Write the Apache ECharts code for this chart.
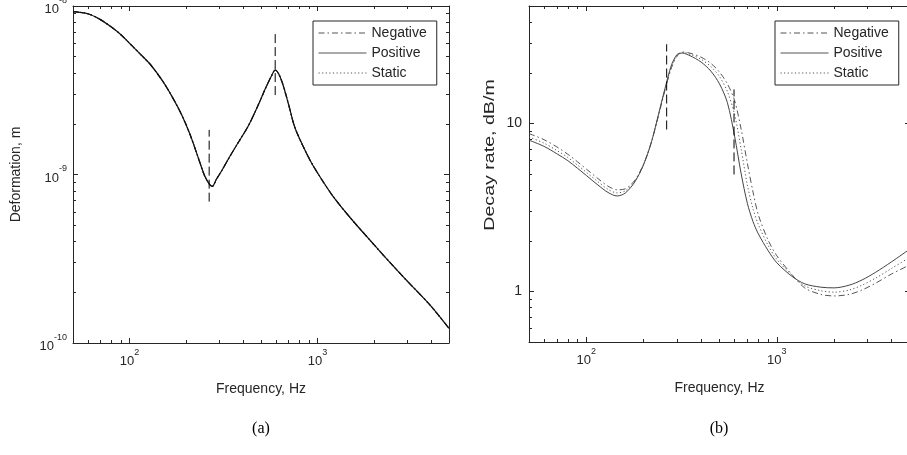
<!DOCTYPE html>
<html>
<head>
<meta charset="utf-8">
<script src="https://cdn.jsdelivr.net/npm/echarts@6/dist/echarts.min.js"></script>
<style>
  html, body { margin: 0; padding: 0; background: #fff; }
  #chart { width: 907px; height: 455px; }
</style>
</head>
<body>
<div id="chart"></div>
<script>
// ---- (a) deformation amplitude versus frequency ----
const freqA = [50, 60, 70, 80, 90, 100, 115, 130, 150, 170, 190, 210, 230, 250, 265, 275, 290, 310, 340, 380,
  430, 480, 530, 570, 595, 620, 650, 700, 750, 800, 900, 1000, 1200, 1500, 2000, 2500, 3000, 4000, 5000];
const deformNegative = [9.25e-9, 9.0e-9, 8.3e-9, 7.5e-9, 6.75e-9, 6.0e-9, 5.13e-9, 4.45e-9, 3.58e-9, 2.84e-9,
  2.24e-9, 1.72e-9, 1.29e-9, 9.9e-10, 8.8e-10, 8.5e-10, 9.4e-10, 1.06e-9, 1.27e-9, 1.56e-9,
  1.96e-9, 2.54e-9, 3.27e-9, 3.87e-9, 4.17e-9, 3.97e-9, 3.49e-9, 2.62e-9, 1.96e-9, 1.64e-9,
  1.25e-9, 1.02e-9, 7.5e-10, 5.5e-10, 3.82e-10, 2.9e-10, 2.33e-10, 1.66e-10, 1.22e-10];
const deformPositive = [9.25e-9, 9.0e-9, 8.3e-9, 7.5e-9, 6.75e-9, 6.0e-9, 5.13e-9, 4.45e-9, 3.58e-9, 2.84e-9,
  2.24e-9, 1.72e-9, 1.29e-9, 9.9e-10, 8.8e-10, 8.5e-10, 9.4e-10, 1.06e-9, 1.27e-9, 1.56e-9,
  1.96e-9, 2.54e-9, 3.27e-9, 3.87e-9, 4.17e-9, 3.97e-9, 3.49e-9, 2.62e-9, 1.96e-9, 1.64e-9,
  1.25e-9, 1.02e-9, 7.5e-10, 5.5e-10, 3.82e-10, 2.9e-10, 2.33e-10, 1.66e-10, 1.22e-10];
const deformStatic = [9.25e-9, 9.0e-9, 8.3e-9, 7.5e-9, 6.75e-9, 6.0e-9, 5.13e-9, 4.45e-9, 3.58e-9, 2.84e-9,
  2.24e-9, 1.72e-9, 1.29e-9, 9.9e-10, 8.8e-10, 8.5e-10, 9.4e-10, 1.06e-9, 1.27e-9, 1.56e-9,
  1.96e-9, 2.54e-9, 3.27e-9, 3.87e-9, 4.17e-9, 3.97e-9, 3.49e-9, 2.62e-9, 1.96e-9, 1.64e-9,
  1.25e-9, 1.02e-9, 7.5e-10, 5.5e-10, 3.82e-10, 2.9e-10, 2.33e-10, 1.66e-10, 1.22e-10];
// vertical dashed markers: [frequency, lower value, upper value]
const markersA = [[265, 6.9e-10, 1.84e-9], [595, 2.96e-9, 6.9e-9]];

// ---- (b) decay rate versus frequency ----
const freqB = [50, 60, 70, 80, 90, 100, 115, 130, 145, 160, 180, 200, 220, 240, 260, 280, 300, 320, 350, 400,
  450, 500, 550, 600, 650, 700, 750, 800, 900, 1000, 1200, 1400, 1700, 2000, 2400, 2800, 3300, 4000, 5000];
const decayNegative = [8.7, 8.0, 7.25, 6.55, 5.9, 5.35, 4.7, 4.23, 4.03, 4.08, 4.6, 5.75, 7.8, 11.3, 16.1, 21.5,
  25.2, 26.6, 26.2, 24.8, 22.8, 20.2, 17.2, 13.7, 9.2, 5.8, 3.9, 2.85, 2.02, 1.63, 1.26, 1.05, 0.96, 0.94,
  0.96, 1.02, 1.12, 1.27, 1.44];
const decayPositive = [7.95, 7.3, 6.6, 6.0, 5.4, 4.9, 4.3, 3.88, 3.70, 3.85, 4.5, 5.7, 7.8, 11.5, 16.5, 22.3,
  25.8, 26.2, 25.3, 23.2, 20.5, 17.2, 13.3, 8.4, 5.0, 3.35, 2.6, 2.2, 1.75, 1.48, 1.23, 1.11, 1.06, 1.05,
  1.09, 1.17, 1.30, 1.50, 1.79];
const decayStatic = [8.3, 7.63, 6.9, 6.27, 5.64, 5.12, 4.5, 4.05, 3.86, 3.97, 4.55, 5.72, 7.8, 11.4, 16.3, 21.9,
  25.5, 26.5, 25.8, 24.1, 21.8, 19.0, 15.5, 11.3, 7.0, 4.3, 3.1, 2.5, 1.88, 1.55, 1.25, 1.08, 1.01, 0.99,
  1.02, 1.09, 1.2, 1.37, 1.6];
const markersB = [[264, 9.2, 29.6], [596, 4.97, 15.95]];

// ---- axes ----
const seriesNames = ['Negative', 'Positive', 'Static'];
const freqRange = [50, 5000];
const deformRange = [1e-10, 1e-8];
const decayRange = [0.5, 50];
const freqTickLabels = [100, 1000];
const deformTickLabels = [1e-10, 1e-9, 1e-8];
const decayTickLabels = [1, 10];

const lg = Math.log10;
const FONT = 'Liberation Sans';
const INK = '#262626';
const DASH_DOT = [6, 3, 1.5, 3];
const DOTTED = [1.2, 2.4];
const MARKER_DASH = [9, 4];

// every 1..9 x 10^k inside the range, in log10 units
function logTicks(range) {
  const out = [];
  for (let k = Math.floor(lg(range[0])); k <= Math.ceil(lg(range[1])); k++) {
    for (let m = 1; m <= 9; m++) {
      const v = m * Math.pow(10, k);
      if (v >= range[0] * 0.9999 && v <= range[1] * 1.0001) out.push(lg(v));
    }
  }
  return out;
}
// whole decades inside the range, in log10 units
function decadeTicks(range) {
  const out = [];
  for (let k = Math.ceil(lg(range[0]) - 1e-9); k <= Math.floor(lg(range[1]) + 1e-9); k++) out.push(k);
  return out;
}

const powerRich = {
  b: { fontFamily: FONT, fontSize: 13, color: INK, lineHeight: 20, verticalAlign: 'bottom' },
  s: { fontFamily: FONT, fontSize: 9, color: INK, lineHeight: 10, verticalAlign: 'top' }
};
const powerLabel = v => '{b|10}{s|' + Math.round(v) + '}';
const plainLabel = v => String(Math.round(Math.pow(10, v)));

// main log axis: box line, short minor ticks, labels and title
function logAxis(o) {
  return {
    type: 'value',
    gridIndex: o.grid,
    position: o.position,
    min: lg(o.range[0]),
    max: lg(o.range[1]),
    axisLine: { show: true, onZero: false, lineStyle: { color: INK, width: 1 } },
    axisTick: { show: true, inside: true, length: 3, customValues: logTicks(o.range),
      lineStyle: { color: INK, width: 1 } },
    axisLabel: o.labels ? {
      show: true,
      customValues: o.labels.map(lg),
      formatter: o.formatter,
      margin: o.margin,
      fontFamily: FONT, fontSize: 14, color: INK,
      rich: powerRich
    } : { show: false },
    splitLine: { show: false },
    name: o.name || '',
    nameLocation: 'middle',
    nameGap: o.nameGap || 0,
    nameTextStyle: { fontFamily: FONT, fontSize: 14, color: INK }
  };
}
// overlay axis carrying the longer decade ticks
function decadeAxis(grid, position, range) {
  return {
    type: 'value', gridIndex: grid, position,
    min: lg(range[0]), max: lg(range[1]),
    axisLine: { show: false, onZero: false },
    axisTick: { show: true, inside: true, length: 5, customValues: decadeTicks(range),
      lineStyle: { color: INK, width: 1 } },
    axisLabel: { show: false },
    splitLine: { show: false }
  };
}

function curve(name, freq, vals, xi, yi, color, type, width) {
  return {
    name, type: 'line', xAxisIndex: xi, yAxisIndex: yi,
    data: freq.map((f, i) => [lg(f), lg(vals[i])]),
    smooth: 0.3, symbol: 'none', showSymbol: false,
    lineStyle: { color, type, width },
    z: 3, silent: true
  };
}

function marker(m, xi, yi) {
  return {
    name: 'marker', type: 'line', xAxisIndex: xi, yAxisIndex: yi,
    data: [[lg(m[0]), lg(m[1])], [lg(m[0]), lg(m[2])]],
    symbol: 'none', lineStyle: { color: '#000', type: MARKER_DASH, width: 1 },
    z: 4, silent: true
  };
}

function legendBox(left, color) {
  return {
    left, top: 21, orient: 'vertical',
    itemWidth: 48, itemHeight: 14, itemGap: 6,
    padding: [5, 10, 5, 5],
    borderColor: INK, borderWidth: 1, backgroundColor: '#fff',
    selectedMode: false,
    textStyle: { fontFamily: FONT, fontSize: 14, color: INK },
    itemStyle: { opacity: 0 },
    data: [
      { name: seriesNames[0], lineStyle: { color, type: DASH_DOT, width: 1 } },
      { name: seriesNames[1], lineStyle: { color, type: 'solid', width: 1 } },
      { name: seriesNames[2], lineStyle: { color, type: DOTTED, width: 1 } }
    ]
  };
}

const chart = echarts.init(document.getElementById('chart'));
chart.setOption({
  animation: false,
  backgroundColor: '#fff',
  grid: [
    { left: 73, top: 6, width: 376, height: 337, containLabel: false, outerBoundsMode: 'none' },
    { left: 529, top: 6, width: 381, height: 336, containLabel: false, outerBoundsMode: 'none' }
  ],
  xAxis: [
    logAxis({ grid: 0, position: 'bottom', range: freqRange, labels: freqTickLabels, formatter: powerLabel,
      margin: 5, name: 'Frequency, Hz', nameGap: 39 }),
    logAxis({ grid: 0, position: 'top', range: freqRange }),
    logAxis({ grid: 1, position: 'bottom', range: freqRange, labels: freqTickLabels, formatter: powerLabel,
      margin: 5, name: 'Frequency, Hz', nameGap: 39 }),
    logAxis({ grid: 1, position: 'top', range: freqRange }),
    decadeAxis(0, 'bottom', freqRange),
    decadeAxis(0, 'top', freqRange),
    decadeAxis(1, 'bottom', freqRange),
    decadeAxis(1, 'top', freqRange)
  ],
  yAxis: [
    logAxis({ grid: 0, position: 'left', range: deformRange, labels: deformTickLabels, formatter: powerLabel,
      margin: 6, name: 'Deformation, m', nameGap: 50 }),
    logAxis({ grid: 0, position: 'right', range: deformRange }),
    logAxis({ grid: 1, position: 'left', range: decayRange, labels: decayTickLabels, formatter: plainLabel,
      margin: 7 }),
    logAxis({ grid: 1, position: 'right', range: decayRange }),
    decadeAxis(0, 'left', deformRange),
    decadeAxis(0, 'right', deformRange),
    decadeAxis(1, 'left', decayRange),
    decadeAxis(1, 'right', decayRange)
  ],
  legend: [legendBox(313, '#555'), legendBox(775, '#555')],
  series: [
    curve(seriesNames[0], freqA, deformNegative, 0, 0, '#111', DASH_DOT, 1.2),
    curve(seriesNames[1], freqA, deformPositive, 0, 0, '#111', 'solid', 1.2),
    curve(seriesNames[2], freqA, deformStatic, 0, 0, '#111', DOTTED, 1.2),
    marker(markersA[0], 0, 0),
    marker(markersA[1], 0, 0),
    curve(seriesNames[0], freqB, decayNegative, 2, 2, '#555', DASH_DOT, 1),
    curve(seriesNames[1], freqB, decayPositive, 2, 2, '#444', 'solid', 1),
    curve(seriesNames[2], freqB, decayStatic, 2, 2, '#555', DOTTED, 1),
    marker(markersB[0], 2, 2),
    marker(markersB[1], 2, 2)
  ],
  graphic: [
    // y title of panel (b), drawn stretched along its length
    { type: 'text', x: 490, y: 155, rotation: Math.PI / 2, scaleX: 1.4,
      style: { text: 'Decay rate, dB/m', fontFamily: FONT, fontSize: 14, fill: INK,
        align: 'center', verticalAlign: 'middle' } },
    { type: 'text', x: 261, y: 429, style: { text: '(a)', fontFamily: 'Liberation Serif', fontSize: 16,
      fill: '#000', align: 'center', verticalAlign: 'middle' } },
    { type: 'text', x: 719, y: 429, style: { text: '(b)', fontFamily: 'Liberation Serif', fontSize: 16,
      fill: '#000', align: 'center', verticalAlign: 'middle' } }
  ]
});
</script>
</body>
</html>
